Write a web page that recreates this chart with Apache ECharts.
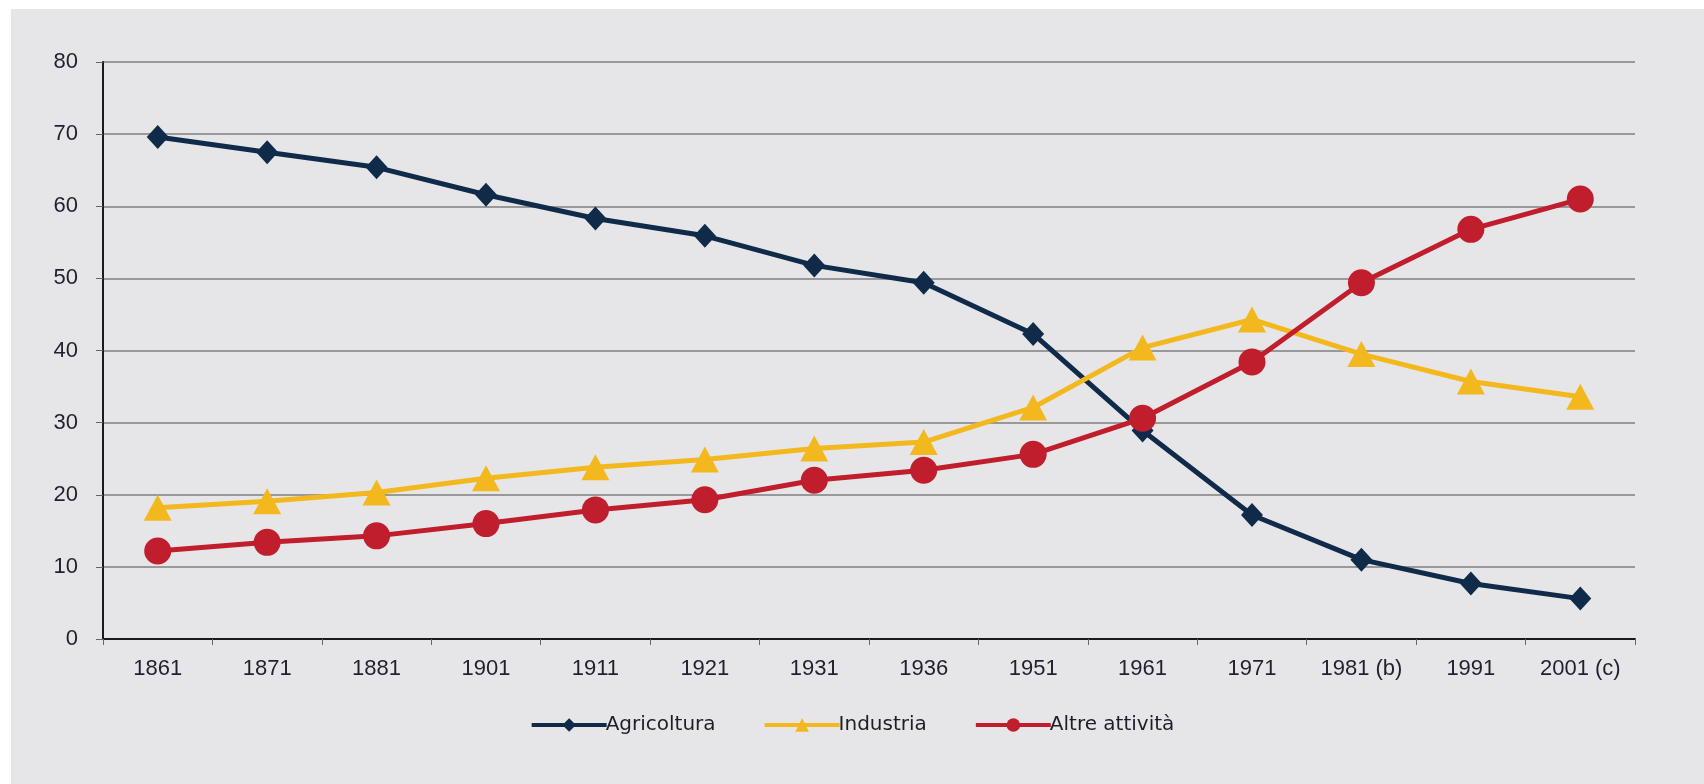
<!DOCTYPE html>
<html>
<head>
<meta charset="utf-8">
<script src="https://cdn.jsdelivr.net/npm/echarts@6/dist/echarts.min.js"></script>
<style>
html,body{margin:0;padding:0;background:#ffffff;}
#panel{position:absolute;left:11px;top:9px;width:1693px;height:775px;background:#e6e6e8;}
#chart{position:absolute;left:0;top:0;width:1704px;height:784px;}
</style>
</head>
<body>
<div id="panel"></div>
<div id="chart"></div>
<script>
var categories = ['1861','1871','1881','1901','1911','1921','1931','1936','1951','1961','1971','1981 (b)','1991','2001 (c)'];
var agricoltura = [69.6, 67.5, 65.4, 61.6, 58.3, 55.9, 51.8, 49.4, 42.3, 28.9, 17.2, 11.0, 7.7, 5.6];
var industria = [18.2, 19.1, 20.3, 22.3, 23.8, 24.9, 26.4, 27.3, 32.1, 40.4, 44.3, 39.5, 35.7, 33.6];
var altre = [12.2, 13.4, 14.3, 16.0, 17.9, 19.3, 22.0, 23.4, 25.6, 30.6, 38.4, 49.4, 56.8, 61.0];
var seriesNames = ['Agricoltura', 'Industria', 'Altre attività'];

var colors = ['#0f2b49', '#f2b81e', '#c01e2d'];
var chart = echarts.init(document.getElementById('chart'), null, {renderer: 'canvas'});
var font = '"Liberation Sans", Arial, sans-serif';
var labelColor = '#241e2e';
function ser(name, data, symbol, size, color) {
  return {
    name: name, type: 'line', data: data, symbol: symbol, symbolSize: size,
    lineStyle: {width: 5, color: color}, itemStyle: {color: color},
    emphasis: {disabled: true}, animation: false
  };
}
chart.setOption({
  backgroundColor: 'transparent',
  animation: false,
  grid: {left: 103, right: 69, top: 62, bottom: 145, containLabel: false},
  legend: {
    bottom: 44, left: 'center', itemWidth: 75, itemHeight: 17, itemGap: 47,
    lineStyle: {width: 4},
    textStyle: {fontFamily: '"DejaVu Sans", sans-serif', fontSize: 20, color: '#1e1e2a', padding: [0,0,0,-6]},
    data: seriesNames.map(function(n){return {name: n};})
  },
  xAxis: {
    type: 'category', data: categories, boundaryGap: true,
    axisLine: {lineStyle: {color: '#1a1a1a', width: 2}},
    axisTick: {show: true, length: 6, lineStyle: {color: '#666', width: 1}},
    axisLabel: {fontFamily: font, fontSize: 22, color: labelColor, margin: 19},
    splitLine: {show: false}
  },
  yAxis: {
    type: 'value', min: 0, max: 80, interval: 10,
    axisLine: {show: true, lineStyle: {color: '#1a1a1a', width: 2}},
    axisTick: {show: true, length: 7, lineStyle: {color: '#666', width: 1}},
    axisLabel: {fontFamily: font, fontSize: 22, color: labelColor, margin: 25},
    splitLine: {show: true, lineStyle: {color: '#999999', width: 2}}
  },
  series: [
    ser(seriesNames[0], agricoltura, 'diamond', [22, 24], colors[0]),
    ser(seriesNames[1], industria, 'triangle', [28, 26], colors[1]),
    ser(seriesNames[2], altre, 'circle', 27, colors[2])
  ]
});
</script>
</body>
</html>
